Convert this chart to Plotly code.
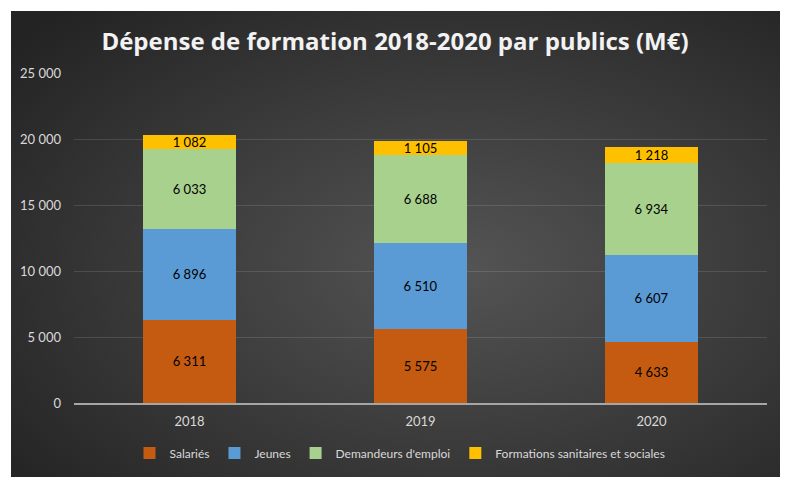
import base64
import plotly.graph_objects as go

years = ["2018", "2019", "2020"]
series_names = ["Salariés", "Jeunes", "Demandeurs d'emploi", "Formations sanitaires et sociales"]
salaries = [6311, 5575, 4633]
jeunes = [6896, 6510, 6607]
demandeurs = [6033, 6688, 6934]
sanitaires = [1082, 1105, 1218]
y_ticks = [0, 5000, 10000, 15000, 20000, 25000]

values = [salaries, jeunes, demandeurs, sanitaires]
colors = ["#C55A11", "#5B9BD5", "#A9D18E", "#FFC000"]

# the page body has an 8px default margin, so the figure is 8px smaller
W, H = 780, 476
L, R, T, B = 66, 21, 65, 81
pw, ph = W - L - R, H - T - B
PX, PY, PW, PH = 3, 3, 771, 466  # dark panel in figure pixels

svg = (
    '<svg xmlns="http://www.w3.org/2000/svg" width="771" height="466">'
    '<defs><radialGradient id="g" cx="0.58" cy="0.55" r="0.75">'
    '<stop offset="0" stop-color="#545454"/>'
    '<stop offset="1" stop-color="#232323"/>'
    '</radialGradient></defs>'
    '<rect width="771" height="466" fill="url(#g)"/></svg>'
)
src = "data:image/svg+xml;base64," + base64.b64encode(svg.encode()).decode()

fig = go.Figure()
for name, vals, col in zip(series_names, values, colors):
    fig.add_trace(go.Bar(
        x=years, y=vals, name=name,
        marker=dict(color=col, line=dict(width=0)),
        text=vals, texttemplate="%{y:,}",
        textposition="inside", insidetextanchor="middle",
        textfont=dict(color="#000000", size=13, family="Lato"),
        constraintext="none", cliponaxis=False,
    ))

fig.update_layout(
    barmode="stack",
    bargap=0.6,
    width=W, height=H,
    margin=dict(l=L, r=R, t=T, b=B, autoexpand=False),
    paper_bgcolor="#FFFFFF",
    plot_bgcolor="rgba(0,0,0,0)",
    separators=", ",
    uniformtext=dict(minsize=13, mode="show"),
    font=dict(family="Lato", color="#D9D9D9", size=13),
    title=dict(
        text="Dépense de formation 2018-2020 par publics (M€)",
        x=(395 - 8) / W, xref="container", xanchor="center",
        y=1 - (42 - 8) / H, yref="container", yanchor="middle",
        font=dict(family="Open Sans", size=24, color="#F2F2F2", weight="bold"),
    ),
    legend=dict(
        orientation="h", x=(400 - 8) / W, xanchor="center", xref="container",
        y=1 - (453 - 8) / H, yref="container", yanchor="middle",
        font=dict(size=12, color="#D9D9D9"),
        bgcolor="rgba(0,0,0,0)", traceorder="normal",
        itemwidth=30,
    ),
    images=[dict(
        source=src, xref="paper", yref="paper",
        x=(PX - L) / pw, y=(H - B - PY) / ph,
        sizex=PW / pw, sizey=PH / ph,
        xanchor="left", yanchor="top", sizing="stretch", layer="below",
    )],
    showlegend=True,
)
fig.update_yaxes(
    range=[0, 25000], tickvals=y_ticks, tickformat=",d",
    showgrid=True, gridcolor="rgba(255,255,255,0.12)", gridwidth=1,
    zeroline=False, showline=False,
    ticks="", ticklabelstandoff=12,
    tickfont=dict(size=13, color="#D9D9D9"),
)
fig.update_xaxes(
    showgrid=False, showline=True, linecolor="#A6A6A6", linewidth=1.5,
    ticks="", tickfont=dict(size=13, color="#D9D9D9"), ticklabelstandoff=6,
)

fig.write_html("out.html")
